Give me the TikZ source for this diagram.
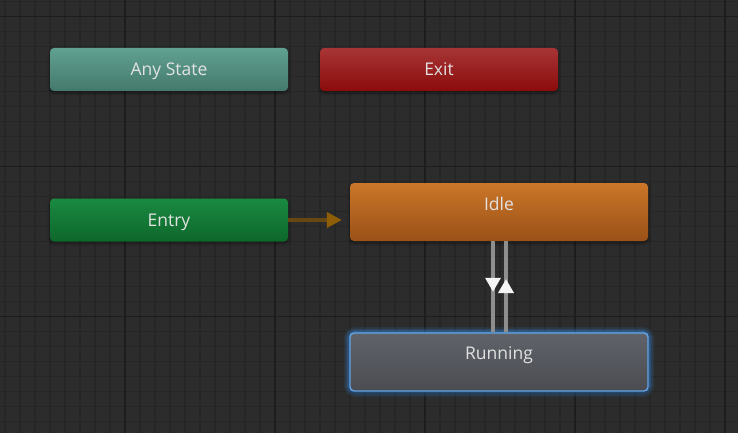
\documentclass[tikz,border=0pt]{standalone}
\usepackage{fontspec}
\setmainfont{Open Sans}
\usetikzlibrary{arrows.meta,decorations.markings,shadows.blur}
\definecolor{bg}{HTML}{2C2C2C}
\definecolor{gridminor}{HTML}{262626}
\definecolor{gridmajor}{HTML}{1D1D1D}
\definecolor{txt}{HTML}{E2E2E2}
\definecolor{anytop}{HTML}{60A191}
\definecolor{anybot}{HTML}{44796C}
\definecolor{exittop}{HTML}{A73535}
\definecolor{exitbot}{HTML}{8B0B0B}
\definecolor{entrytop}{HTML}{1A8A41}
\definecolor{entrybot}{HTML}{0D672B}
\definecolor{idletop}{HTML}{CB7629}
\definecolor{idlebot}{HTML}{9A5117}
\definecolor{runtop}{HTML}{60636A}
\definecolor{runbot}{HTML}{4A4C51}
\definecolor{glowblue}{HTML}{3D8DE0}
\definecolor{linkbrown}{HTML}{684812}
\definecolor{tipbrown}{HTML}{8E5D08}
\definecolor{transgrey}{HTML}{8E8E8E}
\definecolor{tipwhite}{HTML}{F4F4F4}
\begin{document}
\begin{tikzpicture}[x=1pt,y=-1pt,
  statebox/.style={rectangle, rounded corners=4pt, minimum width=238pt,
    minimum height=43pt, inner sep=0pt, text=txt,
    font=\fontsize{17.5}{19}\selectfont, text height=12.5pt, text depth=0pt,
    blur shadow={shadow xshift=0pt, shadow yshift=-2pt, shadow blur steps=6,
      shadow opacity=45, shadow blur radius=3pt}},
  bigbox/.style={statebox, minimum width=298pt, minimum height=58pt},
  inlabel/.style={text=txt, font=\fontsize{17.5}{19}\selectfont,
    text height=12.5pt, text depth=0pt, inner sep=0pt},
  minorline/.style={gridminor, line width=1.2pt},
  majorline/.style={gridmajor, line width=1.5pt},
  entrylink/.style={linkbrown, line width=4pt, shorten >=8pt,
    -{Triangle[width=15pt,length=15pt,color=tipbrown]}},
  translink/.style={transgrey, line width=4pt},
  glowring/.style={glowblue, rounded corners=5pt},
]
\fill[bg] (0,0) rectangle (738,433);
\useasboundingbox (0,0) rectangle (738,433);
% grid
\foreach \k in {0,...,48} { \draw[minorline] (5+15*\k,0) -- (5+15*\k,433); }
\foreach \k in {0,...,28} { \draw[minorline] (0,1.67+15*\k) -- (738,1.67+15*\k); }
\foreach \x in {125,275,425,575,725} { \draw[majorline] (\x,0) -- (\x,433); }
\foreach \y in {16.67,166.67,316.67} { \draw[majorline] (0,\y) -- (738,\y); }

% glow around Running (drawn beneath the node)
\foreach \w/\o in {12pt/0.10, 9pt/0.15, 6pt/0.25, 3pt/0.4} {
  \draw[glowring, line width=\w, opacity=\o] (350,333) rectangle (648,391);
}

% states
\node[statebox, top color=anytop, bottom color=anybot] (any) at (169,69.5) {Any State};
\node[statebox, top color=exittop, bottom color=exitbot] (exit) at (439,69.5) {Exit};
\node[statebox, top color=entrytop, bottom color=entrybot] (entry) at (169,220) {Entry};
\node[bigbox, top color=idletop, bottom color=idlebot] (idle) at (499,212) {};
\node[inlabel] (idlelbl) at ([yshift=8pt]idle.center) {Idle};
\node[bigbox, top color=runtop, bottom color=runbot, draw=glowblue!80!white, line width=1.4pt] (run) at (499,362) {};
\node[inlabel] (runlbl) at ([yshift=9pt]run.center) {Running};

% connectors
\draw[entrylink] (entry.east) -- (entry.east -| idle.west);
\draw[translink, decoration={markings, mark=at position 0.555 with
    {\arrow{Triangle[width=15pt,length=14pt,color=tipwhite]}}}, postaction=decorate]
  ([xshift=-6pt]idle.south) -- ([xshift=-6pt]run.north);
\draw[translink, decoration={markings, mark=at position 0.585 with
    {\arrow{Triangle[width=15pt,length=14pt,color=tipwhite]}}}, postaction=decorate]
  ([xshift=7pt]run.north) -- ([xshift=7pt]idle.south);
\end{tikzpicture}
\end{document}
